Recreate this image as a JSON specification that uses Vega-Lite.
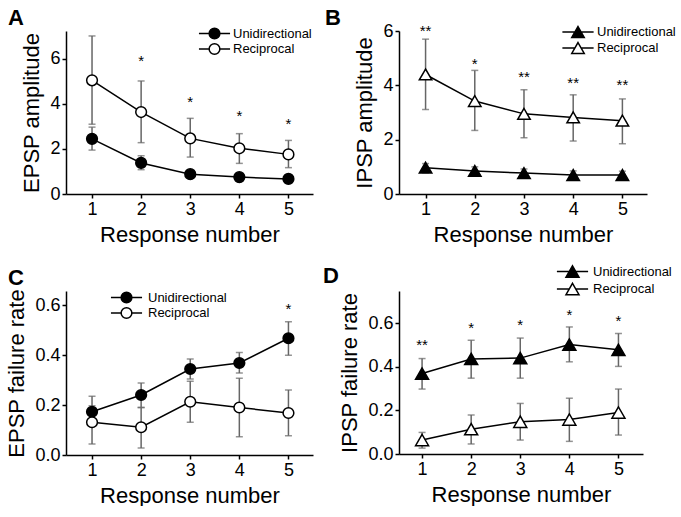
{
  "$schema": "https://vega.github.io/schema/vega-lite/v6.json",
  "padding": {"left": 5, "top": 7, "right": 0, "bottom": 0},
  "config": {
    "font": "Liberation Sans",
    "view": {"stroke": null},
    "axis": {"domainColor": "black", "domainWidth": 1.5, "tickColor": "black", "tickWidth": 1.5, "tickSize": 4, "labelColor": "black", "labelFontSize": 18, "labelPadding": 2, "titleFontSize": 22, "titleFontWeight": "normal", "titleColor": "black", "titlePadding": 6, "grid": false},
    "legend": {"title": null, "orient": "none", "padding": 0, "labelFontSize": 13, "labelColor": "black", "symbolStrokeColor": "black", "symbolStrokeWidth": 1.5, "symbolOpacity": 1, "rowPadding": -1.5},
    "title": {"fontSize": 22, "fontWeight": "bold", "anchor": "start", "frame": "group", "color": "black"}
  },
  "datasets": {
    "main": [
      {"panel": "A", "series": "Unidirectional", "resp": 1, "mean": 2.45, "lo": 1.95, "hi": 2.97},
      {"panel": "A", "series": "Unidirectional", "resp": 2, "mean": 1.38, "lo": 1.08, "hi": 1.70},
      {"panel": "A", "series": "Unidirectional", "resp": 3, "mean": 0.88, "lo": 0.76, "hi": 1.0},
      {"panel": "A", "series": "Unidirectional", "resp": 4, "mean": 0.75, "lo": 0.65, "hi": 0.85},
      {"panel": "A", "series": "Unidirectional", "resp": 5, "mean": 0.67, "lo": 0.58, "hi": 0.76},
      {"panel": "A", "series": "Reciprocal", "resp": 1, "mean": 5.05, "lo": 3.1, "hi": 7.02},
      {"panel": "A", "series": "Reciprocal", "resp": 2, "mean": 3.64, "lo": 2.28, "hi": 5.02},
      {"panel": "A", "series": "Reciprocal", "resp": 3, "mean": 2.47, "lo": 1.64, "hi": 3.36},
      {"panel": "A", "series": "Reciprocal", "resp": 4, "mean": 2.03, "lo": 1.36, "hi": 2.68},
      {"panel": "A", "series": "Reciprocal", "resp": 5, "mean": 1.76, "lo": 1.17, "hi": 2.38},
      {"panel": "B", "series": "Unidirectional", "resp": 1, "mean": 0.97, "lo": 0.78, "hi": 1.12},
      {"panel": "B", "series": "Unidirectional", "resp": 2, "mean": 0.85, "lo": 0.68, "hi": 1.0},
      {"panel": "B", "series": "Unidirectional", "resp": 3, "mean": 0.77, "lo": 0.6, "hi": 0.92},
      {"panel": "B", "series": "Unidirectional", "resp": 4, "mean": 0.70, "lo": 0.55, "hi": 0.85},
      {"panel": "B", "series": "Unidirectional", "resp": 5, "mean": 0.70, "lo": 0.56, "hi": 0.84},
      {"panel": "B", "series": "Reciprocal", "resp": 1, "mean": 4.4, "lo": 3.11, "hi": 5.7},
      {"panel": "B", "series": "Reciprocal", "resp": 2, "mean": 3.42, "lo": 2.34, "hi": 4.55},
      {"panel": "B", "series": "Reciprocal", "resp": 3, "mean": 2.95, "lo": 2.07, "hi": 3.84},
      {"panel": "B", "series": "Reciprocal", "resp": 4, "mean": 2.82, "lo": 1.95, "hi": 3.65},
      {"panel": "B", "series": "Reciprocal", "resp": 5, "mean": 2.70, "lo": 1.85, "hi": 3.5},
      {"panel": "C", "series": "Unidirectional", "resp": 1, "mean": 0.173, "lo": 0.12, "hi": 0.235},
      {"panel": "C", "series": "Unidirectional", "resp": 2, "mean": 0.24, "lo": 0.19, "hi": 0.288},
      {"panel": "C", "series": "Unidirectional", "resp": 3, "mean": 0.344, "lo": 0.304, "hi": 0.384},
      {"panel": "C", "series": "Unidirectional", "resp": 4, "mean": 0.368, "lo": 0.328, "hi": 0.41},
      {"panel": "C", "series": "Unidirectional", "resp": 5, "mean": 0.467, "lo": 0.399, "hi": 0.533},
      {"panel": "C", "series": "Reciprocal", "resp": 1, "mean": 0.131, "lo": 0.044, "hi": 0.197},
      {"panel": "C", "series": "Reciprocal", "resp": 2, "mean": 0.111, "lo": 0.028, "hi": 0.19},
      {"panel": "C", "series": "Reciprocal", "resp": 3, "mean": 0.213, "lo": 0.131, "hi": 0.295},
      {"panel": "C", "series": "Reciprocal", "resp": 4, "mean": 0.19, "lo": 0.073, "hi": 0.307},
      {"panel": "C", "series": "Reciprocal", "resp": 5, "mean": 0.168, "lo": 0.077, "hi": 0.26},
      {"panel": "D", "series": "Unidirectional", "resp": 1, "mean": 0.369, "lo": 0.298, "hi": 0.438},
      {"panel": "D", "series": "Unidirectional", "resp": 2, "mean": 0.436, "lo": 0.348, "hi": 0.522},
      {"panel": "D", "series": "Unidirectional", "resp": 3, "mean": 0.44, "lo": 0.348, "hi": 0.532},
      {"panel": "D", "series": "Unidirectional", "resp": 4, "mean": 0.502, "lo": 0.423, "hi": 0.583},
      {"panel": "D", "series": "Unidirectional", "resp": 5, "mean": 0.478, "lo": 0.402, "hi": 0.553},
      {"panel": "D", "series": "Reciprocal", "resp": 1, "mean": 0.064, "lo": 0.027, "hi": 0.099},
      {"panel": "D", "series": "Reciprocal", "resp": 2, "mean": 0.114, "lo": 0.046, "hi": 0.179},
      {"panel": "D", "series": "Reciprocal", "resp": 3, "mean": 0.148, "lo": 0.064, "hi": 0.232},
      {"panel": "D", "series": "Reciprocal", "resp": 4, "mean": 0.158, "lo": 0.058, "hi": 0.256},
      {"panel": "D", "series": "Reciprocal", "resp": 5, "mean": 0.19, "lo": 0.087, "hi": 0.298}
    ],
    "stars": [
      {"panel": "A", "resp": 2, "y": 5.9, "label": "*"},
      {"panel": "A", "resp": 3, "y": 4.1, "label": "*"},
      {"panel": "A", "resp": 4, "y": 3.45, "label": "*"},
      {"panel": "A", "resp": 5, "y": 3.1, "label": "*"},
      {"panel": "B", "resp": 1, "y": 6.0, "label": "**"},
      {"panel": "B", "resp": 2, "y": 4.8, "label": "*"},
      {"panel": "B", "resp": 3, "y": 4.3, "label": "**"},
      {"panel": "B", "resp": 4, "y": 4.1, "label": "**"},
      {"panel": "B", "resp": 5, "y": 4.0, "label": "**"},
      {"panel": "C", "resp": 5, "y": 0.585, "label": "*"},
      {"panel": "D", "resp": 1, "y": 0.50, "label": "**"},
      {"panel": "D", "resp": 2, "y": 0.58, "label": "*"},
      {"panel": "D", "resp": 3, "y": 0.59, "label": "*"},
      {"panel": "D", "resp": 4, "y": 0.64, "label": "*"},
      {"panel": "D", "resp": 5, "y": 0.61, "label": "*"}
    ]
  },
  "columns": 2,
  "spacing": {"column": 10, "row": 19},
  "resolve": {"scale": {"x": "independent", "y": "independent", "fill": "independent"}, "legend": {"fill": "independent"}},
  "concat": [
    {
      "width": 247, "height": 163,
      "title": {"text": "A", "dx": -58, "offset": -3},
      "data": {"name": "main"},
      "transform": [{"filter": "datum.panel == 'A'"}],
      "encoding": {"x": {"field": "resp", "type": "quantitative", "scale": {"domain": [0.47, 5.5], "nice": false, "zero": false}, "axis": {"values": [1, 2, 3, 4, 5], "format": "d", "title": "Response number"}}},
      "layer": [
        {"mark": {"type": "rule", "color": "#666", "strokeWidth": 1.5}, "encoding": {"y": {"field": "lo", "type": "quantitative", "scale": {"domain": [0, 7.24], "nice": false, "zero": false}, "axis": {"title": "EPSP amplitude", "values": [0, 1, 2, 3, 4, 5, 6, 7], "labelExpr": "datum.value % 2 == 0 ? datum.label : ''", "tickSize": {"condition": {"test": "datum.value % 2 == 1", "value": 2}, "value": 4}}}, "y2": {"field": "hi"}}},
        {"mark": {"type": "tick", "orient": "horizontal", "size": 7, "thickness": 1.5, "color": "#666"}, "encoding": {"y": {"field": "lo", "type": "quantitative"}}},
        {"mark": {"type": "tick", "orient": "horizontal", "size": 7, "thickness": 1.5, "color": "#666"}, "encoding": {"y": {"field": "hi", "type": "quantitative"}}},
        {"mark": {"type": "line", "color": "black", "strokeWidth": 1.5}, "encoding": {"y": {"field": "mean", "type": "quantitative"}, "detail": {"field": "series"}}},
        {"mark": {"type": "point", "shape": "circle", "size": 115, "filled": true, "stroke": "black", "strokeWidth": 1.5, "opacity": 1}, "encoding": {"y": {"field": "mean", "type": "quantitative"}, "fill": {"field": "series", "type": "nominal", "scale": {"domain": ["Unidirectional", "Reciprocal"], "range": ["black", "white"]}, "legend": {"legendX": 142, "legendY": -4, "symbolType": "M-2.9,0L-1,0M1,0L2.9,0M1,0A1,1,0,1,1,-1,0A1,1,0,1,1,1,0Z", "symbolSize": 115, "labelOffset": 12}}}},
        {"data": {"name": "stars"}, "transform": [{"filter": "datum.panel == 'A'"}], "mark": {"type": "text", "fontSize": 15, "baseline": "middle", "dy": 0}, "encoding": {"x": {"field": "resp", "type": "quantitative"}, "y": {"field": "y", "type": "quantitative"}, "text": {"field": "label"}}}
      ]
    },
    {
      "width": 248, "height": 163,
      "title": {"text": "B", "dx": -74, "offset": -8},
      "data": {"name": "main"},
      "transform": [{"filter": "datum.panel == 'B'"}],
      "encoding": {"x": {"field": "resp", "type": "quantitative", "scale": {"domain": [0.46, 5.5], "nice": false, "zero": false}, "axis": {"values": [1, 2, 3, 4, 5], "format": "d", "title": "Response number"}}},
      "layer": [
        {"mark": {"type": "rule", "color": "#666", "strokeWidth": 1.5}, "encoding": {"y": {"field": "lo", "type": "quantitative", "scale": {"domain": [0, 6], "nice": false, "zero": false}, "axis": {"title": "IPSP amplitude", "values": [0, 1, 2, 3, 4, 5, 6], "labelExpr": "datum.value % 2 == 0 ? datum.label : ''", "tickSize": {"condition": {"test": "datum.value % 2 == 1", "value": 2}, "value": 4}}}, "y2": {"field": "hi"}}},
        {"mark": {"type": "tick", "orient": "horizontal", "size": 7, "thickness": 1.5, "color": "#666"}, "encoding": {"y": {"field": "lo", "type": "quantitative"}}},
        {"mark": {"type": "tick", "orient": "horizontal", "size": 7, "thickness": 1.5, "color": "#666"}, "encoding": {"y": {"field": "hi", "type": "quantitative"}}},
        {"mark": {"type": "line", "color": "black", "strokeWidth": 1.5}, "encoding": {"y": {"field": "mean", "type": "quantitative"}, "detail": {"field": "series"}}},
        {"mark": {"type": "point", "shape": "triangle-up", "size": 156, "filled": true, "stroke": "black", "strokeWidth": 1.5, "opacity": 1}, "encoding": {"y": {"field": "mean", "type": "quantitative"}, "fill": {"field": "series", "type": "nominal", "scale": {"domain": ["Unidirectional", "Reciprocal"], "range": ["black", "white"]}, "legend": {"legendX": 172, "legendY": -6, "symbolType": "M-2.5,0L-0.5,0M0.5,0L2.5,0M0,-0.866L1,0.866L-1,0.866Z", "symbolSize": 156, "labelOffset": 12, "rowPadding": -2.3}}}},
        {"data": {"name": "stars"}, "transform": [{"filter": "datum.panel == 'B'"}], "mark": {"type": "text", "fontSize": 15, "baseline": "middle", "dy": 0}, "encoding": {"x": {"field": "resp", "type": "quantitative"}, "y": {"field": "y", "type": "quantitative"}, "text": {"field": "label"}}}
      ]
    },
    {
      "width": 247, "height": 164,
      "title": {"text": "C", "dx": -58, "offset": -1},
      "data": {"name": "main"},
      "transform": [{"filter": "datum.panel == 'C'"}],
      "encoding": {"x": {"field": "resp", "type": "quantitative", "scale": {"domain": [0.47, 5.5], "nice": false, "zero": false}, "axis": {"values": [1, 2, 3, 4, 5], "format": "d", "title": "Response number"}}},
      "layer": [
        {"mark": {"type": "rule", "color": "#666", "strokeWidth": 1.5}, "encoding": {"y": {"field": "lo", "type": "quantitative", "scale": {"domain": [0, 0.656], "nice": false, "zero": false}, "axis": {"title": "EPSP failure rate", "values": [0, 0.1, 0.2, 0.3, 0.4, 0.5, 0.6], "format": ".1f", "labelExpr": "round(datum.value * 10) % 2 == 0 ? datum.label : ''", "tickSize": {"condition": {"test": "round(datum.value * 10) % 2 == 1", "value": 2}, "value": 4}}}, "y2": {"field": "hi"}}},
        {"mark": {"type": "tick", "orient": "horizontal", "size": 7, "thickness": 1.5, "color": "#666"}, "encoding": {"y": {"field": "lo", "type": "quantitative"}}},
        {"mark": {"type": "tick", "orient": "horizontal", "size": 7, "thickness": 1.5, "color": "#666"}, "encoding": {"y": {"field": "hi", "type": "quantitative"}}},
        {"mark": {"type": "line", "color": "black", "strokeWidth": 1.5}, "encoding": {"y": {"field": "mean", "type": "quantitative"}, "detail": {"field": "series"}}},
        {"mark": {"type": "point", "shape": "circle", "size": 115, "filled": true, "stroke": "black", "strokeWidth": 1.5, "opacity": 1}, "encoding": {"y": {"field": "mean", "type": "quantitative"}, "fill": {"field": "series", "type": "nominal", "scale": {"domain": ["Unidirectional", "Reciprocal"], "range": ["black", "white"]}, "legend": {"legendX": 54, "legendY": 0, "symbolType": "M-2.9,0L-1,0M1,0L2.9,0M1,0A1,1,0,1,1,-1,0A1,1,0,1,1,1,0Z", "symbolSize": 115, "labelOffset": 15}}}},
        {"data": {"name": "stars"}, "transform": [{"filter": "datum.panel == 'C'"}], "mark": {"type": "text", "fontSize": 15, "baseline": "middle", "dy": 0}, "encoding": {"x": {"field": "resp", "type": "quantitative"}, "y": {"field": "y", "type": "quantitative"}, "text": {"field": "label"}}}
      ]
    },
    {
      "width": 244, "height": 163,
      "title": {"text": "D", "dx": -76, "offset": -24},
      "data": {"name": "main"},
      "transform": [{"filter": "datum.panel == 'D'"}],
      "encoding": {"x": {"field": "resp", "type": "quantitative", "scale": {"domain": [0.53, 5.5], "nice": false, "zero": false}, "axis": {"values": [1, 2, 3, 4, 5], "format": "d", "title": "Response number"}}},
      "layer": [
        {"mark": {"type": "rule", "color": "#666", "strokeWidth": 1.5}, "encoding": {"y": {"field": "lo", "type": "quantitative", "scale": {"domain": [0, 0.748], "nice": false, "zero": false}, "axis": {"title": "IPSP failure rate", "values": [0, 0.1, 0.2, 0.3, 0.4, 0.5, 0.6, 0.7], "format": ".1f", "labelExpr": "round(datum.value * 10) % 2 == 0 ? datum.label : ''", "tickSize": {"condition": {"test": "round(datum.value * 10) % 2 == 1", "value": 2}, "value": 4}}}, "y2": {"field": "hi"}}},
        {"mark": {"type": "tick", "orient": "horizontal", "size": 7, "thickness": 1.5, "color": "#666"}, "encoding": {"y": {"field": "lo", "type": "quantitative"}}},
        {"mark": {"type": "tick", "orient": "horizontal", "size": 7, "thickness": 1.5, "color": "#666"}, "encoding": {"y": {"field": "hi", "type": "quantitative"}}},
        {"mark": {"type": "line", "color": "black", "strokeWidth": 1.5}, "encoding": {"y": {"field": "mean", "type": "quantitative"}, "detail": {"field": "series"}}},
        {"mark": {"type": "point", "shape": "triangle-up", "size": 169, "filled": true, "stroke": "black", "strokeWidth": 1.5, "opacity": 1}, "encoding": {"y": {"field": "mean", "type": "quantitative"}, "fill": {"field": "series", "type": "nominal", "scale": {"domain": ["Unidirectional", "Reciprocal"], "range": ["black", "white"]}, "legend": {"legendX": 166, "legendY": -27, "symbolType": "M-2.4,0L-0.5,0M0.5,0L2.4,0M0,-0.866L1,0.866L-1,0.866Z", "symbolSize": 169, "labelOffset": 13}}}},
        {"data": {"name": "stars"}, "transform": [{"filter": "datum.panel == 'D'"}], "mark": {"type": "text", "fontSize": 15, "baseline": "middle", "dy": 0}, "encoding": {"x": {"field": "resp", "type": "quantitative"}, "y": {"field": "y", "type": "quantitative"}, "text": {"field": "label"}}}
      ]
    }
  ]
}
